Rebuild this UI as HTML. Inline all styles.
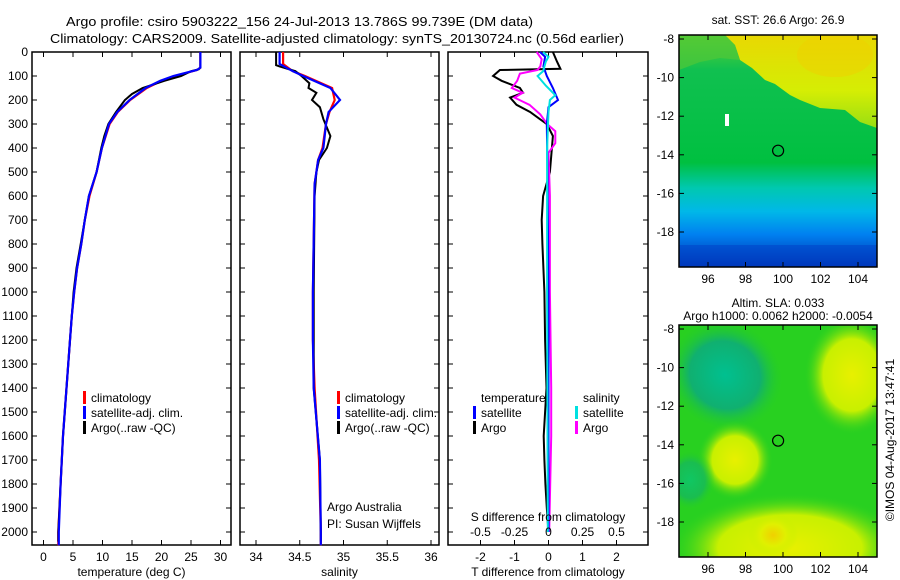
<!DOCTYPE html>
<html><head><meta charset="utf-8"><style>
html,body{margin:0;padding:0;background:#fff;}
svg{display:block;font-family:"Liberation Sans",sans-serif;}
</style></head><body>
<svg id="chart" width="900" height="580" viewBox="0 0 900 580" xmlns="http://www.w3.org/2000/svg">
<defs>
<linearGradient id="sstg" x1="0" y1="0" x2="0" y2="1">
<stop offset="0" stop-color="#60d030"/><stop offset="0.15" stop-color="#10c050"/>
<stop offset="0.55" stop-color="#00c040"/><stop offset="0.66" stop-color="#00c8b0"/>
<stop offset="0.76" stop-color="#00b8e8"/><stop offset="0.86" stop-color="#0080f0"/>
<stop offset="1" stop-color="#0030b0"/></linearGradient>
<linearGradient id="sstY" x1="0" y1="0" x2="0" y2="1">
<stop offset="0" stop-color="#f0d800"/><stop offset="0.6" stop-color="#e0f000"/><stop offset="1" stop-color="#a0e010"/></linearGradient>
<radialGradient id="yb"><stop offset="0" stop-color="#e8f000"/><stop offset="0.6" stop-color="#c8f000"/><stop offset="1" stop-color="#28d020" stop-opacity="0"/></radialGradient>
<radialGradient id="ob"><stop offset="0" stop-color="#f0d000"/><stop offset="0.5" stop-color="#e0f000"/><stop offset="1" stop-color="#c0f000" stop-opacity="0"/></radialGradient>
<radialGradient id="tb"><stop offset="0" stop-color="#00c090"/><stop offset="0.6" stop-color="#10b070"/><stop offset="1" stop-color="#28d020" stop-opacity="0"/></radialGradient>
<clipPath id="clipTop"><rect x="679" y="35" width="198" height="232"/></clipPath>
<clipPath id="clipBot"><rect x="679" y="325" width="198" height="232"/></clipPath>
</defs>
<g id="root"></g>
</svg>
<script>
// ---- data ----
const depthArgoT = [0,65,72,80,100,120,150,175,200,250,300,350,400,500,600,700,800,900,1000,1100,1200,1400,1600,1800,2000,2040];
const tempArgo   = [26.6,26.6,26.3,25,23.3,20.5,16.8,15,13.8,12.3,11.0,10.3,9.8,9.0,7.7,7.0,6.3,5.6,5.1,4.8,4.5,3.9,3.3,2.9,2.5,2.5];
const depthClimT = [0,65,75,100,120,150,200,250,300,400,500,600,700,800,900,1000,1100,1200,1400,1600,1800,2000,2055];
const tempClim   = [26.6,26.6,26,22.3,20,17.5,14.7,12.6,11.2,9.9,9.0,7.8,7.0,6.4,5.7,5.2,4.8,4.5,3.9,3.3,2.9,2.5,2.5];
const tempSat    = [26.6,26.6,26,22.0,19.8,17.3,14.6,12.5,11.1,9.9,9.0,7.7,7.0,6.4,5.7,5.2,4.8,4.5,3.9,3.3,2.9,2.6,2.6];
const depthArgoS = [0,55,60,80,100,130,150,170,200,230,280,350,400,450,500,600,1000,1200,1400,1700,2000,2040];
const salArgo    = [34.23,34.23,34.27,34.45,34.52,34.61,34.6,34.69,34.64,34.73,34.77,34.85,34.81,34.72,34.69,34.67,34.66,34.66,34.66,34.73,34.74,34.74];
const depthClimS = [0,50,80,100,150,200,250,300,400,450,500,550,1000,1200,1400,1700,2000,2055];
const salClim    = [34.31,34.31,34.42,34.56,34.87,34.90,34.84,34.80,34.76,34.71,34.69,34.67,34.65,34.65,34.67,34.72,34.74,34.74];
const salSat     = [34.27,34.27,34.42,34.54,34.85,34.96,34.83,34.80,34.77,34.71,34.69,34.67,34.65,34.65,34.66,34.73,34.74,34.74];
const depthDT    = [0,40,70,75,100,120,150,170,190,220,250,280,300,350,400,500,600,700,800,1000,1200,1400,1600,1700,1800,1900,2000];
const dTArgo     = [0.13,0.25,0.35,-1.43,-1.63,-1.38,-0.84,-0.75,-1.13,-0.94,-0.54,-0.25,-0.05,0.13,0.1,0.04,-0.16,-0.2,-0.18,-0.12,-0.1,-0.06,-0.14,-0.12,-0.09,-0.05,0];
const depthDTs   = [0,20,60,100,150,200,230,300,500,1000,1500,2000];
const dTSat      = [-0.25,-0.1,-0.15,-0.05,0.13,0.28,0,-0.05,-0.03,0,0,0];
const depthDS    = [0,30,60,75,90,120,150,170,190,220,260,300,330,380,420,600,1000,1400,1600,2000];
const dSArgo     = [-0.087,-0.05,-0.06,-0.08,-0.21,-0.23,-0.27,-0.19,-0.25,-0.14,-0.06,-0.01,0.05,0.05,0.0,0.01,0.01,0.02,0.02,0.005];
const depthDSs   = [0,20,40,80,100,140,180,200,250,400,1000,2000];
const dSSat      = [-0.04,0,-0.02,-0.04,-0.08,-0.02,0.05,0.01,0,-0.01,-0.01,-0.005];
const depthTicks = [0,100,200,300,400,500,600,700,800,900,1000,1100,1200,1300,1400,1500,1600,1700,1800,1900,2000];
const tempTicks  = [0,5,10,15,20,25,30];
const salTicks   = [34,34.5,35,35.5,36];
const dTTicks    = [-2,-1,0,1,2];
const dSTicks    = [-0.5,-0.25,0,0.25,0.5];
const dSTickLabels = ["-0.5","-0.25","0","0.25","0.5"];
const latTicks   = [-8,-10,-12,-14,-16,-18];
const lonTicks   = [96,98,100,102,104];
const argoLon = 99.739, argoLat = -13.786;

// ---- scales ----
const yD = d => 52 + d*0.24;
const xT = t => 43.5 + t*5.9;
const xS = s => 256 + (s-34)*87.5;
const xDT = v => 548.5 + v*34;
const xDS = v => 548.5 + v*136;
const xLon = l => 708 + (l-96)*18.75;
const yLatTop = l => 39 + (-8-l)*19.3;
const yLatBot = l => 329 + (-8-l)*19.3;

const NS = "http://www.w3.org/2000/svg";
const root = document.getElementById('root');
function mk(tag, attrs, parent){ const e=document.createElementNS(NS,tag); for(const k in attrs) e.setAttribute(k,attrs[k]); (parent||root).appendChild(e); return e; }
function txt(x,y,s,anchor,size,parent){ const t=mk('text',{x:x,y:y,'font-size':size||12,'text-anchor':anchor||'start',fill:'#000'},parent); t.textContent=s; return t; }
function line(xs,ds,fx,color,w,name){
  const pts = ds.map((d,i)=>fx(xs[i]).toFixed(1)+','+yD(d).toFixed(1)).join(' ');
  const p = mk('polyline',{points:pts,fill:'none',stroke:color,'stroke-width':w||2,'stroke-linejoin':'miter'});
  
  
  return p;
}

// titles
let t1 = txt(66,26,"Argo profile: csiro 5903222_156 24-Jul-2013 13.786S 99.739E (DM data)",'start',13);
t1.setAttribute('textLength','467'); t1.setAttribute('lengthAdjust','spacingAndGlyphs');


let t2 = txt(50,43,"Climatology: CARS2009. Satellite-adjusted climatology: synTS_20130724.nc (0.56d earlier)",'start',13);
t2.setAttribute('textLength','574'); t2.setAttribute('lengthAdjust','spacingAndGlyphs');



// panels
const panels = [
  {x0:32,x1:231,name:'temperature-panel',ticks:tempTicks,labels:tempTicks.map(String),fx:xT,xlabel:'temperature (deg C)'},
  {x0:240,x1:439,name:'salinity-panel',ticks:salTicks,labels:salTicks.map(String),fx:xS,xlabel:'salinity'},
  {x0:448,x1:648,name:'difference-panel',ticks:dTTicks,labels:dTTicks.map(String),fx:xDT,xlabel:'T difference from climatology'}
];
const yTop=52, yBot=545;
panels.forEach((p,pi)=>{
  const g = mk('g',{});
  
  
  mk('rect',{x:p.x0,y:yTop,width:p.x1-p.x0,height:yBot-yTop,fill:'none',stroke:'#000','stroke-width':1.5},g);
  depthTicks.forEach(d=>{
    mk('line',{x1:p.x0,y1:yD(d),x2:p.x0+5,y2:yD(d),stroke:'#000'},g);
    mk('line',{x1:p.x1,y1:yD(d),x2:p.x1-5,y2:yD(d),stroke:'#000'},g);
  });
  p.ticks.forEach((v,i)=>{
    const x=p.fx(v);
    mk('line',{x1:x,y1:yTop,x2:x,y2:yTop+5,stroke:'#000'},g);
    mk('line',{x1:x,y1:yBot,x2:x,y2:yBot-5,stroke:'#000'},g);
    const tl = txt(x,561,p.labels[i],'middle',12,g);
    
    
  });
  const xl = txt((p.x0+p.x1)/2,576,p.xlabel,'middle',12,g);
  
  
});
// y tick labels
depthTicks.forEach(d=>{
  const tl = txt(28,yD(d)+4,String(d),'end',12);
  
  
});

// temperature lines
line(tempClim,depthClimT,xT,'#ff0000',2.2,'temperature-climatology-line');
line(tempArgo,depthArgoT,xT,'#000000',2,'temperature-argo-line');
line(tempSat,depthClimT,xT,'#0000ff',2.2,'temperature-satellite-line');
// salinity lines
line(salClim,depthClimS,xS,'#ff0000',2.2,'salinity-climatology-line');
line(salArgo,depthArgoS,xS,'#000000',2,'salinity-argo-line');
line(salSat,depthClimS,xS,'#0000ff',2.2,'salinity-satellite-line');
// difference lines
line(dTArgo,depthDT,xDT,'#000000',2,'t-diff-argo-line');
line(dSArgo,depthDS,xDS,'#ff00ff',2,'s-diff-argo-line');
line(dTSat,depthDTs,xDT,'#0000ff',2,'t-diff-satellite-line');
line(dSSat,depthDSs,xDS,'#00e0e0',2,'s-diff-satellite-line');

// S diff axis labels
dSTicks.forEach((v,i)=>{
  const tl = txt(xDS(v),536,dSTickLabels[i],'middle',12);
  
  
});
const sdt = txt(548,521,'S difference from climatology','middle',12);



// legends
function legend(x,y,items,name){
  const g = mk('g',{});
  
  
  items.forEach((it,i)=>{
    if(it[0]) mk('rect',{x:x,y:y+i*15-11,width:3,height:13,fill:it[0]},g);
    txt(x+8,y+i*15,it[1],'start',12,g);
  });
}
legend(83,402,[['#ff0000','climatology'],['#0000ff','satellite-adj. clim.'],['#000','Argo(..raw -QC)']],'temperature-legend');
legend(337,402,[['#ff0000','climatology'],['#0000ff','satellite-adj. clim.'],['#000','Argo(..raw -QC)']],'salinity-legend');
legend(473,402,[[null,'temperature'],['#0000ff','satellite'],['#000','Argo']],'t-diff-legend');
legend(575,402,[[null,'  salinity'],['#00e0e0','satellite'],['#ff00ff','Argo']],'s-diff-legend');
const a1=txt(327,511,'Argo Australia','start',12);  
const a2=txt(327,528,'PI: Susan Wijffels','start',12);  

// maps
function mapFrame(y0,name,title1,title2){
  const g = mk('g',{});
  
  
  if(title2){ txt(778,y0-18,title1,'middle',12,g); txt(778,y0-5,title2,'middle',12,g); }
  else txt(778,y0-11,title1,'middle',12,g);
  return g;
}
// top SST map
const gTop = mapFrame(35,'sst-map','sat. SST: 26.6 Argo: 26.9');
const cTop = mk('g',{'clip-path':'url(#clipTop)'},gTop);
mk('rect',{x:679,y:35,width:198,height:232,fill:'url(#sstg)'},cTop);
mk('path',{d:'M725,35 L877,35 L877,128 L860,122 L845,110 L820,108 L800,100 L790,95 L775,84 L765,80 L752,68 L740,60 L735,45 Z',fill:'url(#sstY)',opacity:0.95},cTop);
mk('ellipse',{cx:835,cy:55,rx:38,ry:22,fill:'#f0d000',opacity:0.5},cTop);
mk('path',{d:'M679,35 L725,35 L735,45 L740,60 L720,58 L700,62 L679,70 Z',fill:'#50c838',opacity:0.7},cTop);
mk('rect',{x:679,y:245,width:198,height:22,fill:'#0040c8',opacity:0.5},cTop);
mk('rect',{x:725,y:114,width:4,height:12,fill:'#fff'},cTop);
// bottom SLA map
const gBot = mapFrame(325,'sla-map','Altim. SLA: 0.033','Argo h1000: 0.0062 h2000: -0.0054');
const cBot = mk('g',{'clip-path':'url(#clipBot)'},gBot);
mk('rect',{x:679,y:325,width:198,height:232,fill:'#28d020'},cBot);
mk('ellipse',{cx:725,cy:375,rx:60,ry:55,fill:'url(#tb)',transform:'rotate(30 725 375)'},cBot);
mk('ellipse',{cx:852,cy:375,rx:48,ry:60,fill:'url(#yb)'},cBot);
mk('ellipse',{cx:735,cy:460,rx:38,ry:40,fill:'url(#yb)'},cBot);
mk('ellipse',{cx:790,cy:548,rx:120,ry:55,fill:'url(#yb)'},cBot);
mk('ellipse',{cx:773,cy:535,rx:25,ry:22,fill:'url(#ob)'},cBot);
mk('ellipse',{cx:690,cy:480,rx:25,ry:30,fill:'url(#tb)',opacity:0.6},cBot);

[[35,267,yLatTop,gTop],[325,557,yLatBot,gBot]].forEach(([y0,y1,yL,g])=>{
  mk('rect',{x:679,y:y0,width:198,height:y1-y0,fill:'none',stroke:'#000','stroke-width':1.5},g);
  latTicks.forEach(l=>{
    const y=yL(l);
    mk('line',{x1:679,y1:y,x2:684,y2:y,stroke:'#000'},g);
    mk('line',{x1:877,y1:y,x2:872,y2:y,stroke:'#000'},g);
    txt(674,y+4,String(l),'end',12,g);
  });
  lonTicks.forEach(l=>{
    const x=xLon(l);
    mk('line',{x1:x,y1:y0,x2:x,y2:y0+5,stroke:'#000'},g);
    mk('line',{x1:x,y1:y1,x2:x,y2:y1-5,stroke:'#000'},g);
    txt(x,y1+16,String(l),'middle',12,g);
  });
  const c = mk('circle',{cx:xLon(argoLon),cy:yL(argoLat),r:5.5,fill:'none',stroke:'#000','stroke-width':1.2},g);
  
  
});
const cr = txt(0,0,'©IMOS 04-Aug-2017 13:47:41','middle',12);
cr.setAttribute('transform','translate(894,440) rotate(-90)');


</script>
</body></html>
